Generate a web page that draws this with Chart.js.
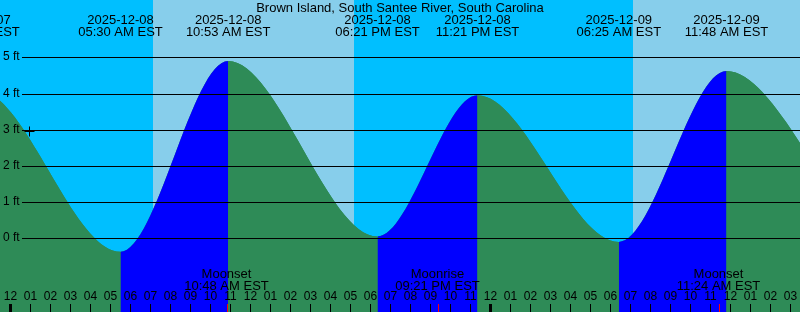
<!DOCTYPE html>
<html>
<head>
<meta charset="utf-8">
<script src="https://cdn.jsdelivr.net/npm/chart.js@4"></script>
<style>
  html, body { margin: 0; padding: 0; background: #fff; }
  #wrap { width: 800px; height: 312px; position: relative; }
</style>
</head>
<body>
<div id="wrap"><canvas id="tideChart"></canvas></div>
<script>
// Tide chart, hours counted from 2025-12-08 00:00 EST
const title = 'Brown Island, South Santee River, South Carolina';

// tide turning points; the first and last two lie outside the window and only shape the curve
const tideHours = [-8.9, -1.65, 5.5, 10.883, 18.35, 23.35, 30.417, 35.8, 43.8, 50.0];
const tideFeet  = [0.1, 4.1, -0.37, 4.9, 0.05, 3.95, -0.1, 4.62, 0.1, 4.0];
const tideDates = ['', '2025-12-07', '2025-12-08', '2025-12-08', '2025-12-08', '2025-12-08', '2025-12-09', '2025-12-09', '', ''];
const tideClock = ['', '10:21 PM EST', '05:30 AM EST', '10:53 AM EST', '06:21 PM EST', '11:21 PM EST', '06:25 AM EST', '11:48 AM EST', '', ''];

// moon events
const moonHours  = [10.8, 21.35, 35.4];
const moonEvents = ['Moonset', 'Moonrise', 'Moonset'];
const moonClock  = ['10:48 AM EST', '09:21 PM EST', '11:24 AM EST'];

// daylight
const sunriseHours = [7.12, 31.12];
const sunsetHours  = [17.17, 41.17];

// current position marker
const nowHours = [0.95];
const nowFeet  = [2.95];

// axes
const feetTicks  = [0, 1, 2, 3, 4, 5];
const hourLabels = ['12', '01', '02', '03', '04', '05', '06', '07', '08', '09', '10', '11'];
const xMin = -0.525, xMax = 39.475;
const yMin = -2.036, yMax = 6.583;

const NIGHT = '#00BFFF', DAY = '#87CEEB';
const RISING = '#0000FF', FALLING = '#2E8B57';
const FONT = '"Liberation Sans", Arial, sans-serif';

function label(ctx, str, x, y, size, align) {
    ctx.font = size + 'px ' + FONT;
    ctx.textAlign = align || 'center';
    ctx.textBaseline = 'middle';
    ctx.fillStyle = '#000';
    ctx.fillText(str, x, y);
}

const backdrop = {
    id: 'backdrop',
    beforeDatasetsDraw(chart) {
        const { ctx, chartArea: a, scales: { x } } = chart;
        ctx.save();
        ctx.fillStyle = NIGHT;
        ctx.fillRect(a.left, a.top, a.width, a.height);
        ctx.fillStyle = DAY;
        sunriseHours.forEach((h, i) => {
            const x0 = Math.round(x.getPixelForValue(h));
            const x1 = Math.round(x.getPixelForValue(sunsetHours[i]));
            ctx.fillRect(x0, a.top, x1 - x0, a.height);
        });
        ctx.restore();
    }
};

const overlay = {
    id: 'overlay',
    afterDatasetsDraw(chart) {
        const { ctx, chartArea: a, scales: { x, y } } = chart;
        ctx.save();

        // height grid
        ctx.strokeStyle = '#000';
        ctx.lineWidth = 1;
        feetTicks.forEach(v => {
            const py = Math.round(y.getPixelForValue(v)) + 0.5;
            ctx.beginPath();
            ctx.moveTo(22, py);
            ctx.lineTo(a.right, py);
            ctx.stroke();
            label(ctx, v + ' ft', 3, py - 1, 12, 'left');
        });

        // title and tide event labels
        label(ctx, title, 400, 8, 13);
        tideHours.forEach((h, i) => {
            const px = x.getPixelForValue(h);
            label(ctx, tideDates[i], px, 20, 13);
            label(ctx, tideClock[i], px, 32, 13);
        });

        // moon labels
        moonHours.forEach((h, i) => {
            const px = x.getPixelForValue(h);
            label(ctx, moonEvents[i], px, 274, 13);
            label(ctx, moonClock[i], px, 286, 13);
        });

        // hour labels and ticks
        for (let h = Math.ceil(xMin); h <= Math.floor(xMax); h++) {
            const px = x.getPixelForValue(h);
            label(ctx, hourLabels[((h % 12) + 12) % 12], px, 297, 12);
            ctx.lineWidth = (h % 24 === 0) ? 3 : 1;
            ctx.strokeStyle = '#000';
            ctx.beginPath();
            ctx.moveTo(px, 304);
            ctx.lineTo(px, a.bottom);
            ctx.stroke();
        }
        ctx.lineWidth = 1;
        ctx.strokeStyle = '#FF0000';
        moonHours.forEach(h => {
            const px = Math.round(x.getPixelForValue(h)) + 0.5;
            ctx.beginPath();
            ctx.moveTo(px, 304);
            ctx.lineTo(px, a.bottom);
            ctx.stroke();
        });

        ctx.restore();
    }
};

const tidePoints = tideHours.map((h, i) => ({ x: h, y: tideFeet[i] }));

const canvas = document.getElementById('tideChart');
new Chart(canvas, {
    type: 'line',
    data: {
        datasets: [
            {
                data: nowHours.map((h, i) => ({ x: h, y: nowFeet[i] })),
                showLine: false,
                pointStyle: 'cross',
                pointRadius: 5,
                pointHoverRadius: 5,
                pointBorderColor: '#000',
                pointBorderWidth: 1
            },
            {
                // rising / falling colouring
                data: tidePoints,
                fill: 'start',
                borderColor: 'rgba(0,0,0,0)',
                borderWidth: 1,
                pointRadius: 0,
                cubicInterpolationMode: 'monotone',
                capBezierPoints: false,
                segment: {
                    backgroundColor: c => c.p1.parsed.y > c.p0.parsed.y ? RISING : FALLING
                }
            },
            {
                // plain underlay so segment seams don't show the sky
                data: tidePoints,
                fill: 'start',
                backgroundColor: FALLING,
                borderColor: 'rgba(0,0,0,0)',
                borderWidth: 1,
                pointRadius: 0,
                cubicInterpolationMode: 'monotone',
                capBezierPoints: false
            }
        ]
    },
    options: {
        responsive: true,
        maintainAspectRatio: false,
        animation: false,
        events: [],
        layout: { padding: 0, autoPadding: false },
        plugins: {
            legend: { display: false },
            tooltip: { enabled: false }
        },
        scales: {
            x: { type: 'linear', min: xMin, max: xMax, display: false },
            y: { min: yMin, max: yMax, display: false }
        }
    },
    plugins: [backdrop, overlay]
});
</script>
</body>
</html>
